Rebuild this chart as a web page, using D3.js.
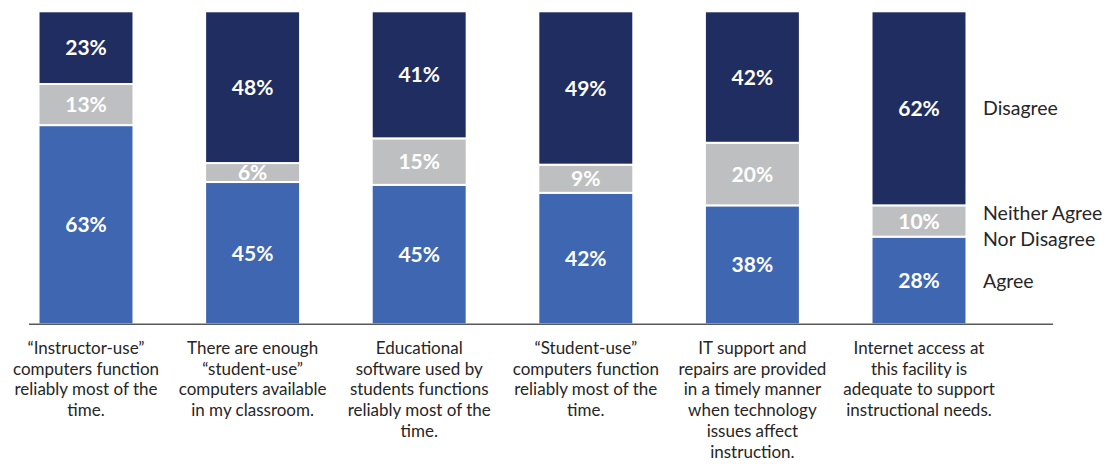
<!DOCTYPE html>
<html>
<head>
<meta charset="utf-8">
<script src="https://cdn.jsdelivr.net/npm/d3@7"></script>
<style>
  html, body { margin: 0; padding: 0; background: #fff; }
  svg { display: block; }
  text { font-family: Lato, "Open Sans", sans-serif; }
</style>
</head>
<body>
<svg id="chart" width="1113" height="468"></svg>
<script>
// Survey statements (wrapped lines) and response shares in percent
const categories = [
  ["\u201cInstructor-use\u201d", "computers function", "reliably most of the", "time."],
  ["There are enough", "\u201cstudent-use\u201d", "computers available", "in my classroom."],
  ["Educational", "software used by", "students functions", "reliably most of the", "time."],
  ["\u201cStudent-use\u201d", "computers function", "reliably most of the", "time."],
  ["IT support and", "repairs are provided", "in a timely manner", "when technology", "issues affect", "instruction."],
  ["Internet access at", "this facility is", "adequate to support", "instructional needs."]
];
const agree    = [63, 45, 45, 42, 38, 28];
const neutral  = [13, 6, 15, 9, 20, 10];
const disagree = [23, 48, 41, 49, 42, 62];

const seriesKeys   = ["agree", "neutral", "disagree"];
const legendLabels = [["Agree"], ["Neither Agree", "Nor Disagree"], ["Disagree"]];
const colors = { agree: "#3F67B1", neutral: "#BEBFC1", disagree: "#202D60" };

const rows = categories.map((c, i) => ({
  idx: i, agree: agree[i], neutral: neutral[i], disagree: disagree[i]
}));

const svg = d3.select("#chart");

const x = d3.scaleBand()
  .domain(d3.range(categories.length))
  .range([2.7, 1002.3])
  .paddingInner(0.43)
  .paddingOuter(0.215);

const y = d3.scaleLinear().domain([0, 1]).range([324.3, 11.3]);

// Each bar is stacked as shares of its own total
const stacked = d3.stack().keys(seriesKeys).offset(d3.stackOffsetExpand)(rows);

const layers = svg.append("g").selectAll("g")
  .data(stacked)
  .join("g")
  .attr("fill", d => colors[d.key]);

layers.selectAll("rect")
  .data(d => d)
  .join("rect")
  .attr("x", d => x(d.data.idx))
  .attr("width", x.bandwidth())
  .attr("y", d => y(d[1]))
  .attr("height", d => y(d[0]) - y(d[1]))
  .attr("stroke", "#fff")
  .attr("stroke-width", 2);

// Percentage labels centred in each segment
layers.selectAll("text")
  .data(d => d.map(s => ({ s, key: d.key })))
  .join("text")
  .attr("x", d => x(d.s.data.idx) + x.bandwidth() / 2)
  .attr("y", d => (y(d.s[0]) + y(d.s[1])) / 2)
  .attr("dy", "0.36em")
  .attr("text-anchor", "middle")
  .attr("fill", "#fff")
  .attr("font-weight", 700)
  .attr("font-size", 21)
  .text(d => d.s.data[d.key] + "%");

// Baseline
svg.append("line")
  .attr("x1", 29).attr("x2", 1053)
  .attr("y1", 324.2).attr("y2", 324.2)
  .attr("stroke", "#595959")
  .attr("stroke-width", 1.5);

// Category labels under each bar
const catG = svg.append("g").selectAll("text")
  .data(categories)
  .join("text")
  .attr("text-anchor", "middle")
  .attr("fill", "#262626")
  .attr("font-size", 17)
  .attr("transform", (d, i) => `translate(${x(i) + x.bandwidth() / 2},354)`);

catG.selectAll("tspan")
  .data(d => d)
  .join("tspan")
  .attr("x", 0)
  .attr("y", (d, i) => i * 20.7)
  .text(d => d);

// Legend aligned to the segments of the last bar
const last = categories.length - 1;
const legend = svg.append("g").selectAll("text")
  .data(stacked)
  .join("text")
  .attr("fill", "#262626")
  .attr("font-size", 19.5)
  .attr("transform", (d, i) => {
    const seg = d[last];
    const mid = (y(seg[0]) + y(seg[1])) / 2;
    const n = legendLabels[i].length;
    const extra = d.key === "neutral" ? 5 : 0;
    return `translate(983,${mid + extra - (n - 1) * 13})`;
  });

legend.selectAll("tspan")
  .data((d, i) => legendLabels[i])
  .join("tspan")
  .attr("x", 0)
  .attr("y", (d, i) => i * 26)
  .attr("dy", "0.36em")
  .text(d => d);
</script>
</body>
</html>
